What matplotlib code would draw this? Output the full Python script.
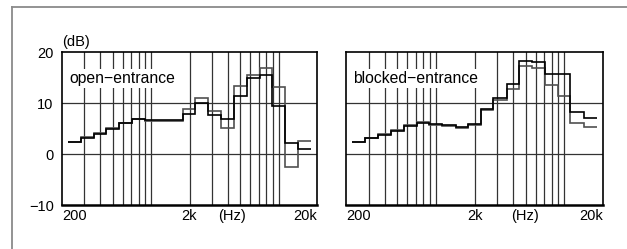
import matplotlib
matplotlib.use("Agg")
import matplotlib.pyplot as plt
from matplotlib.lines import Line2D
import numpy as np

plt.rcParams['font.family'] = ['Liberation Sans', 'DejaVu Sans']

# 1/3-octave band centres (Hz)
band_centers = [250, 315, 400, 500, 630, 800, 1000, 1250, 1600, 2000,
                2500, 3150, 4000, 5000, 6300, 8000, 10000, 12500, 16000]

open_black = [2.3, 3.2, 4.0, 5.0, 6.0, 6.9, 6.6, 6.6, 6.7, 7.9,
              10.0, 7.6, 6.9, 11.3, 14.9, 15.5, 9.4, 2.1, 0.9]
open_gray = [2.4, 3.3, 4.1, 5.1, 6.1, 6.8, 6.5, 6.5, 6.4, 8.8,
             10.9, 8.4, 5.1, 13.3, 15.5, 16.9, 13.2, -2.5, 2.5]

blocked_black = [2.3, 3.1, 3.8, 4.6, 5.5, 6.1, 5.8, 5.6, 5.2, 5.8,
                 8.8, 11.0, 13.7, 18.2, 18.1, 15.6, 15.6, 8.3, 7.1]
blocked_gray = [2.4, 3.2, 3.9, 4.7, 5.6, 6.2, 5.7, 5.5, 5.1, 5.7,
                8.6, 10.6, 12.7, 17.3, 16.8, 13.5, 11.3, 6.0, 5.2]

grid_freqs = [300, 400, 500, 600, 700, 800, 900, 1000,
              2000, 3000, 4000, 5000, 6000, 7000, 8000, 9000, 10000]
hgrid_levels = [0, 10]

xtick_vals = [200, 2000, 20000]
xtick_labels = ['200', '2k', '20k']
ytick_vals = [-10, 0, 10, 20]
ytick_labels = ['\u221210', '0', '10', '20']

panel_titles = ['open\u2212entrance', 'blocked\u2212entrance']
panel_data = [(open_black, open_gray), (blocked_black, blocked_gray)]

W, H = 627, 249
fig = plt.figure(figsize=(W / 100, H / 100), dpi=100)

# outer frame (extends beyond the picture on right/bottom)
fcol = '#8a8a8a'
fig.add_artist(Line2D([12 / W, 12 / W], [1 - 7 / H, -0.1], transform=fig.transFigure,
                      color=fcol, lw=1.3))
fig.add_artist(Line2D([12 / W, 1.1], [1 - 7 / H, 1 - 7 / H], transform=fig.transFigure,
                      color=fcol, lw=1.3))

centers = np.array(band_centers, dtype=float)
edges = np.concatenate([centers * 2 ** (-1 / 6), [centers[-1] * 2 ** (1 / 6)]])

axes_px = [(62, 317), (346, 603)]
top_px, bot_px = 52, 205
hz_pos = [0.665, 0.695]

for i, ((x0, x1), title, (blk, gry)) in enumerate(zip(axes_px, panel_titles, panel_data)):
    ax = fig.add_axes([x0 / W, 1 - bot_px / H, (x1 - x0) / W, (bot_px - top_px) / H])
    ax.set_xscale('log')
    ax.set_xlim(200, 20000)
    ax.set_ylim(-10, 20)
    for f in grid_freqs:
        ax.axvline(f, color='#333333', lw=0.9, zorder=1)
    for lv in hgrid_levels:
        ax.axhline(lv, color='#333333', lw=0.9, zorder=1)
    ax.stairs(gry, edges, color='#505050', lw=1.2, baseline=None, zorder=3)
    ax.stairs(blk, edges, color='#000000', lw=1.2, baseline=None, zorder=4)

    ax.set_xticks(xtick_vals)
    ax.set_xticklabels(xtick_labels, fontsize=10.5)
    ax.xaxis.set_minor_locator(matplotlib.ticker.NullLocator())
    lbls = ax.get_xticklabels()
    lbls[0].set_horizontalalignment('left')
    lbls[-1].set_horizontalalignment('right')
    ax.tick_params(axis='x', length=0, pad=3)
    ax.set_yticks(ytick_vals)
    if i == 0:
        ax.set_yticklabels(ytick_labels, fontsize=10.5)
        ax.tick_params(axis='y', length=0, pad=6)
        ax.annotate('(dB)', xy=(0, 1), xycoords='axes fraction', xytext=(0, 2.5),
                    textcoords='offset points', ha='left', va='bottom', fontsize=10.5)
    else:
        ax.set_yticklabels([])
        ax.tick_params(axis='y', length=0)
    ax.annotate('(Hz)', xy=(hz_pos[i], 0), xycoords='axes fraction', xytext=(0, -3),
                textcoords='offset points', ha='center', va='top', fontsize=10.5)
    ax.text(0.027, 0.825, title, transform=ax.transAxes, fontsize=11.3,
            ha='left', va='center', zorder=5,
            bbox=dict(facecolor='white', edgecolor='none', pad=1.5))
    for s in ax.spines.values():
        s.set_linewidth(1.2)
        s.set_color('black')
        s.set_zorder(6)
    ax.spines['bottom'].set_linewidth(1.8)

fig.savefig('out.png', dpi=100)
